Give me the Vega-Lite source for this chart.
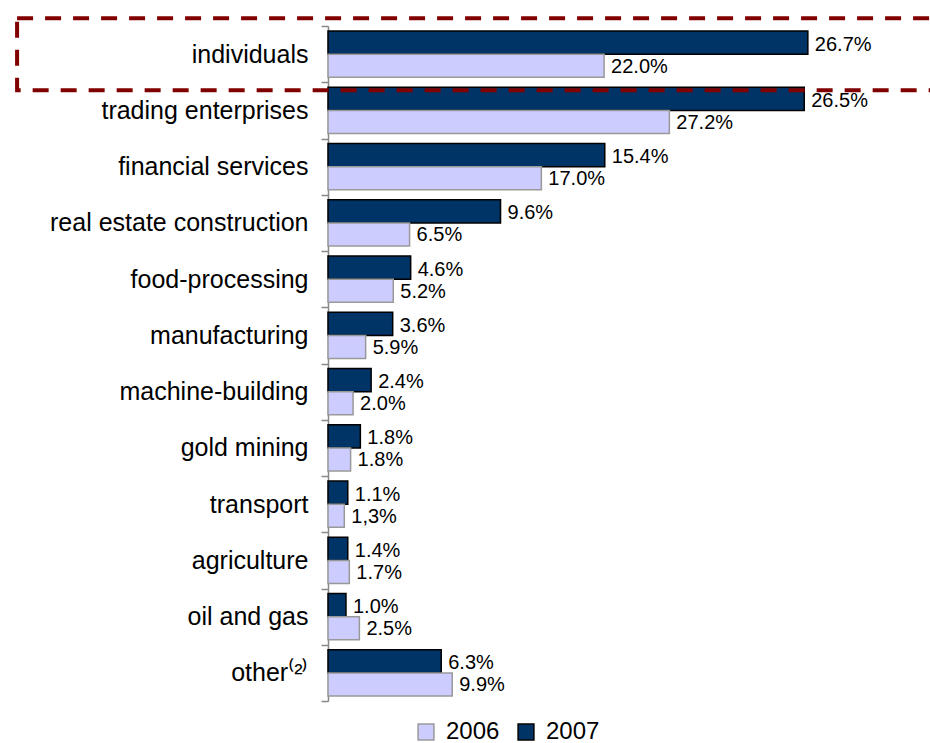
{
  "$schema": "https://vega.github.io/schema/vega-lite/v6.json",
  "width": 560,
  "height": 675,
  "autosize": {"type": "none"},
  "padding": {"left": 328, "top": 26, "right": 42, "bottom": 42},
  "background": "white",
  "config": {"view": {"stroke": null}, "font": "Liberation Sans"},
  "datasets": {
    "bars": [
      {"category": "individuals", "year": "2007", "value": 26.7, "label": "26.7%"},
      {"category": "individuals", "year": "2006", "value": 22.0, "label": "22.0%"},
      {"category": "trading enterprises", "year": "2007", "value": 26.5, "label": "26.5%"},
      {"category": "trading enterprises", "year": "2006", "value": 27.2, "label": "27.2%"},
      {"category": "financial services", "year": "2007", "value": 15.4, "label": "15.4%"},
      {"category": "financial services", "year": "2006", "value": 17.0, "label": "17.0%"},
      {"category": "real estate construction", "year": "2007", "value": 9.6, "label": "9.6%"},
      {"category": "real estate construction", "year": "2006", "value": 6.5, "label": "6.5%"},
      {"category": "food-processing", "year": "2007", "value": 4.6, "label": "4.6%"},
      {"category": "food-processing", "year": "2006", "value": 5.2, "label": "5.2%"},
      {"category": "manufacturing", "year": "2007", "value": 3.6, "label": "3.6%"},
      {"category": "manufacturing", "year": "2006", "value": 3.0, "label": "5.9%"},
      {"category": "machine-building", "year": "2007", "value": 2.4, "label": "2.4%"},
      {"category": "machine-building", "year": "2006", "value": 2.0, "label": "2.0%"},
      {"category": "gold mining", "year": "2007", "value": 1.8, "label": "1.8%"},
      {"category": "gold mining", "year": "2006", "value": 1.8, "label": "1.8%"},
      {"category": "transport", "year": "2007", "value": 1.1, "label": "1.1%"},
      {"category": "transport", "year": "2006", "value": 1.3, "label": "1,3%"},
      {"category": "agriculture", "year": "2007", "value": 1.1, "label": "1.4%"},
      {"category": "agriculture", "year": "2006", "value": 1.7, "label": "1.7%"},
      {"category": "oil and gas", "year": "2007", "value": 1.0, "label": "1.0%"},
      {"category": "oil and gas", "year": "2006", "value": 2.5, "label": "2.5%"},
      {"category": "other⁽²⁾", "year": "2007", "value": 6.3, "label": "6.3%"},
      {"category": "other⁽²⁾", "year": "2006", "value": 9.9, "label": "9.9%"}
    ],
    "highlight": [
      {"category": "individuals"}
    ]
  },
  "encoding": {
    "y": {
      "field": "category",
      "type": "nominal",
      "sort": ["individuals", "trading enterprises", "financial services", "real estate construction", "food-processing", "manufacturing", "machine-building", "gold mining", "transport", "agriculture", "oil and gas", "other⁽²⁾"],
      "scale": {"paddingInner": 0, "paddingOuter": 0},
      "axis": {
        "title": null,
        "labelFontSize": 25,
        "labelColor": "black",
        "labelFont": "Liberation Sans",
        "labelPadding": 13,
        "labelLimit": 0,
        "tickSize": 7,
        "tickBand": "extent",
        "tickColor": "#888888",
        "domainColor": "#888888",
        "domainWidth": 1.5,
        "tickWidth": 1.5
      }
    }
  },
  "layer": [
    {
      "data": {"name": "bars"},
      "transform": [{"filter": "datum.year == '2007'"}],
      "encoding": {
        "x": {"field": "value", "type": "quantitative", "scale": {"domain": [0, 31.16]}, "axis": null},
        "yOffset": {"field": "year", "type": "nominal", "sort": ["2007", "2006"], "scale": {"domain": ["2007", "2006"], "paddingInner": 0, "paddingOuter": 0.22}}
      },
      "layer": [
        {
          "mark": {"type": "bar", "strokeWidth": 1.5},
          "encoding": {
            "fill": {"field": "year", "type": "nominal", "scale": {"domain": ["2006", "2007"], "range": ["#ccccff", "#003366"]},
              "legend": {"title": null, "orient": "none", "direction": "horizontal", "legendX": 86, "legendY": 694, "symbolType": "square", "symbolSize": 250, "labelFontSize": 24, "labelFont": "Liberation Sans", "labelColor": "black", "labelOffset": 8, "columnPadding": 14, "symbolStrokeWidth": 1.5}},
            "stroke": {"field": "year", "type": "nominal", "scale": {"domain": ["2006", "2007"], "range": ["#999999", "#000000"]},
              "legend": {"title": null, "orient": "none", "direction": "horizontal", "legendX": 86, "legendY": 694, "symbolType": "square", "symbolSize": 250, "labelFontSize": 24, "labelFont": "Liberation Sans", "labelColor": "black", "labelOffset": 8, "columnPadding": 14, "symbolStrokeWidth": 1.5}}
          }
        },
        {
          "mark": {"type": "text", "align": "left", "baseline": "middle", "dx": 7, "dy": 2, "fontSize": 20, "font": "Liberation Sans", "color": "black"},
          "encoding": {"text": {"field": "label"}}
        }
      ]
    },
    {
      "data": {"name": "bars"},
      "transform": [{"filter": "datum.year == '2006'"}],
      "encoding": {
        "x": {"field": "value", "type": "quantitative", "scale": {"domain": [0, 44.62]}, "axis": null},
        "yOffset": {"field": "year", "type": "nominal", "sort": ["2007", "2006"], "scale": {"domain": ["2007", "2006"], "paddingInner": 0, "paddingOuter": 0.22}}
      },
      "layer": [
        {
          "mark": {"type": "bar", "strokeWidth": 1.5},
          "encoding": {
            "fill": {"field": "year", "type": "nominal"},
            "stroke": {"field": "year", "type": "nominal"}
          }
        },
        {
          "mark": {"type": "text", "align": "left", "baseline": "middle", "dx": 7, "dy": 1, "fontSize": 20, "font": "Liberation Sans", "color": "black"},
          "encoding": {"text": {"field": "label"}}
        }
      ]
    },
    {
      "data": {"name": "highlight"},
      "mark": {"type": "bar", "size": 72, "fillOpacity": 0, "stroke": "#800000", "strokeWidth": 4, "strokeDash": [16, 12]},
      "encoding": {
        "x": {"datum": -17.3, "type": "quantitative", "scale": {"domain": [0, 31.16]}, "axis": null},
        "x2": {"datum": 40}
      }
    }
  ],
  "resolve": {"scale": {"x": "independent"}}
}
